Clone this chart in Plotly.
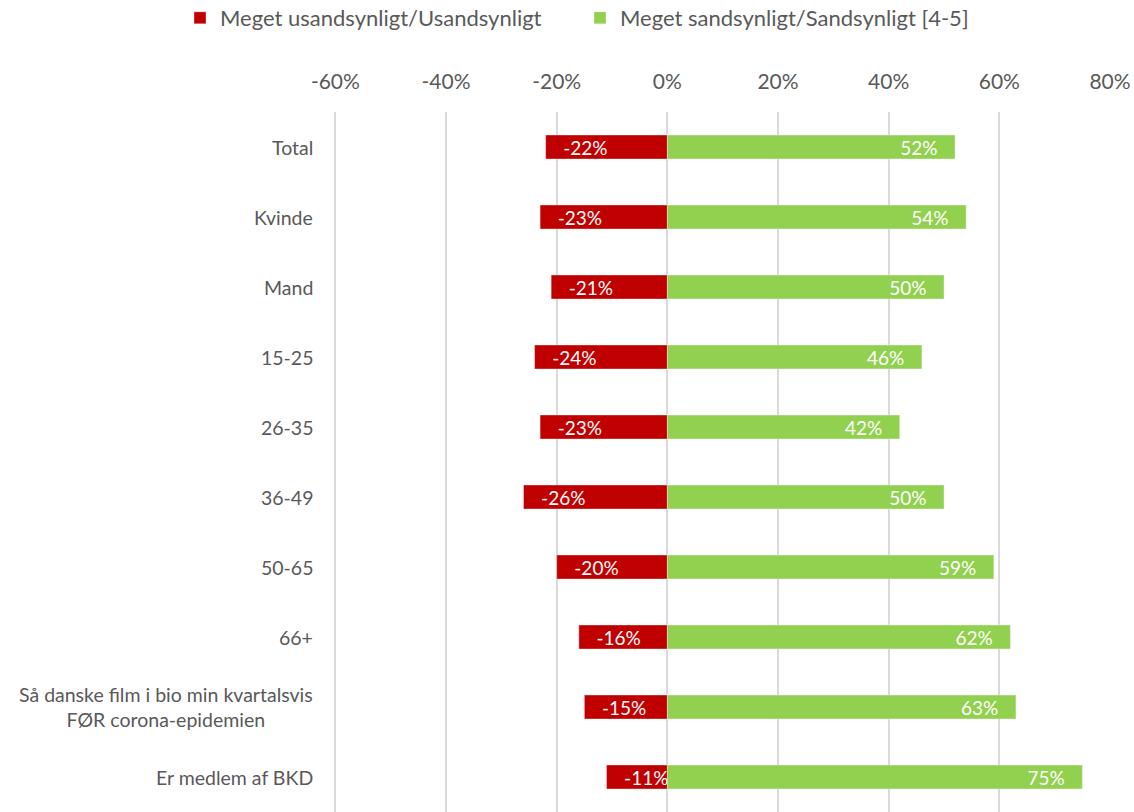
import plotly.graph_objects as go

categories = ["Total", "Kvinde", "Mand", "15-25", "26-35", "36-49", "50-65", "66+",
              "Så danske film i bio min kvartalsvis<br>FØR corona-epidemien", "Er medlem af BKD"]
unlikely = [-22, -23, -21, -24, -23, -26, -20, -16, -15, -11]
likely = [52, 54, 50, 46, 42, 50, 59, 62, 63, 75]
series_names = ["Meget usandsynligt/Usandsynligt", "Meget sandsynligt/Sandsynligt [4-5]"]
tick_values = [-60, -40, -20, 0, 20, 40, 60, 80]
tick_labels = ["-60%", "-40%", "-20%", "0%", "20%", "40%", "60%", "80%"]

RED = "#C00000"
GREEN = "#92D050"
GRAY = "#595959"
FONT = "Lato"
PAD = "\u00a0\u00a0\u00a0"

W, H = 1134, 812

idx = list(range(len(categories)))

fig = go.Figure()
fig.add_trace(go.Bar(
    y=idx, x=unlikely, orientation="h", name=series_names[0], legend="legend",
    marker=dict(color=RED, line=dict(color="rgba(255,255,255,0.6)", width=0.6)),
    text=[PAD + f"{v}%" for v in unlikely],
    textposition="inside", insidetextanchor="end", constraintext="none",
    textfont=dict(color="white", size=19, family=FONT),
    hoverinfo="skip",
))
fig.add_trace(go.Bar(
    y=idx, x=likely, orientation="h", name=series_names[1], legend="legend2",
    marker=dict(color=GREEN, line=dict(color="rgba(255,255,255,0.6)", width=0.6)),
    text=[f"{v}%" + PAD for v in likely],
    textposition="inside", insidetextanchor="end", constraintext="none",
    textfont=dict(color="white", size=19, family=FONT),
    hoverinfo="skip",
))

for i, c in enumerate(categories):
    fig.add_annotation(
        x=0, xref="paper", xanchor="right", xshift=-19,
        y=i, yref="y", yanchor="middle",
        text=c, showarrow=False, align="center",
        font=dict(size=19.5, color=GRAY, family=FONT),
    )

legend_common = dict(orientation="h", xref="container", yref="container",
                     xanchor="left", y=1 - 18 / H, yanchor="middle",
                     font=dict(size=22, color=GRAY, family=FONT),
                     bgcolor="rgba(0,0,0,0)", itemwidth=30)

fig.update_layout(
    width=W, height=H,
    margin=dict(l=334, r=24, t=112, b=0, autoexpand=False),
    paper_bgcolor="white", plot_bgcolor="white",
    barmode="relative", bargap=0.657,
    font=dict(family=FONT, color=GRAY),
    showlegend=True,
    legend=dict(x=180 / W, **legend_common),
    legend2=dict(x=580 / W, **legend_common),
    xaxis=dict(side="top", range=[-60.25, 80], tickvals=tick_values, ticktext=tick_labels,
               showgrid=True, gridcolor="#D9D9D9", gridwidth=1.5,
               zeroline=True, zerolinecolor="#D9D9D9", zerolinewidth=1.5,
               showline=False, ticks="", ticklabelstandoff=18, automargin=False,
               tickfont=dict(size=21, color=GRAY, family=FONT)),
    yaxis=dict(range=[9.5, -0.5], showticklabels=False, showgrid=False,
               zeroline=False, showline=False, ticks="", automargin=False),
)

fig.write_html("out.html", config={"displayModeBar": False},
               post_script="document.body.style.margin='0';document.body.style.overflow='hidden';")
